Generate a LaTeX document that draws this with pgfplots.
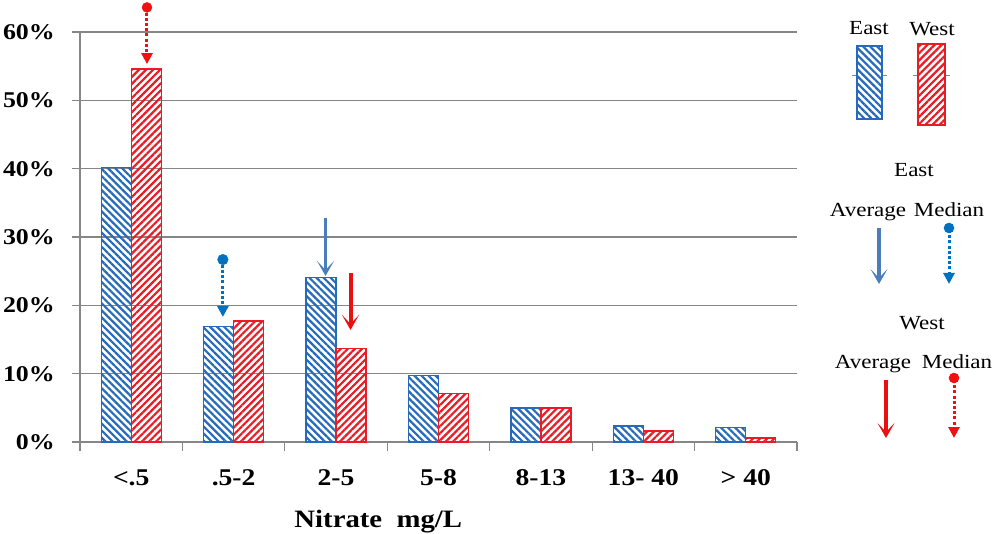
\documentclass[border=0pt]{standalone}
\usepackage{fontspec}
\setmainfont[FakeStretch=1.15]{Liberation Serif}
\usepackage{pgfplots}
\pgfplotsset{compat=1.18}
\usetikzlibrary{patterns.meta,arrows.meta}
\definecolor{eastblue}{RGB}{38,106,186}
\definecolor{westred}{RGB}{232,28,36}
\definecolor{avgblue}{RGB}{74,126,187}
\definecolor{medblue}{RGB}{0,112,192}
\definecolor{avgred}{RGB}{232,16,16}
\definecolor{medred}{RGB}{240,16,16}
\definecolor{gridgray}{RGB}{134,134,134}
\tikzset{
  eastbar/.style={draw=eastblue, line width=1.4pt, pattern={Lines[angle=-45,distance=5pt,line width=2.2pt]}, pattern color=eastblue},
  westbar/.style={draw=westred, line width=1.4pt, pattern={Lines[angle=45,distance=5pt,line width=2.2pt]}, pattern color=westred},
  avgarrowblue/.style={draw=avgblue, line width=3.5pt, -{Stealth[length=15pt,width=17pt,inset=9pt]}},
  avgarrowred/.style={draw=avgred, line width=4pt, -{Stealth[length=15pt,width=17pt,inset=9pt]}},
  medarrowblue/.style={draw=medblue, line width=3pt, dash pattern=on 3pt off 2.2pt, -{Triangle[length=11pt,width=11pt]}},
  medarrowred/.style={draw=medred, line width=3pt, dash pattern=on 3pt off 2.2pt, -{Triangle[length=11pt,width=11pt]}},
}
\begin{document}
\begin{tikzpicture}
\path[use as bounding box] (0pt,0pt) rectangle (995pt,-534pt);
\begin{axis}[
  at={(80pt,-442pt)}, anchor=south west,
  scale only axis, width=717pt, height=410pt,
  xmin=-0.5, xmax=6.5, ymin=0, ymax=60,
  clip=false,
  axis x line*=bottom, axis y line*=left,
  axis line style={draw=gridgray, line width=1.2pt, -},
  ymajorgrids, grid style={draw=gridgray, line width=1.1pt},
  ytick={0,10,...,60},
  yticklabels={0\%,10\%,20\%,30\%,40\%,50\%,60\%},
  xtick={0,...,6},
  xticklabels={<.5,.5-2,2-5,5-8,8-13,13- 40,> 40},
  minor xtick={-0.5,0.5,...,6.5},
  tick align=outside, major tick length=8pt, minor tick length=9pt,
  tick style={draw=gridgray, line width=1.2pt},
  major x tick style={draw=none},
  yticklabel style={font=\fontsize{22.5}{26}\selectfont\bfseries, anchor=east, inner sep=0pt, xshift=-17pt},
  xticklabel style={font=\fontsize{24}{28}\selectfont\bfseries, anchor=base, inner sep=0pt, yshift=-35pt},
  xlabel={Nitrate\ \ mg/L},
  xlabel style={font=\fontsize{25}{30}\selectfont\bfseries, at={(axis description cs:0.416,0)}, anchor=base, inner sep=0pt, yshift=-85pt},
]
\addplot[ybar, bar width=30pt, bar shift=-15pt, eastbar] coordinates {
  (0,40.2) (1,16.9) (2,24.1) (3,9.7) (4,5.0) (5,2.35) (6,2.1)};
\addplot[ybar, bar width=30pt, bar shift=15pt, westbar] coordinates {
  (0,54.6) (1,17.7) (2,13.7) (3,7.1) (4,5.0) (5,1.6) (6,0.6)};
% West median
\addplot[medarrowred] coordinates {(0.154,63.6) (0.154,55.3)};
\addplot[only marks, mark=*, mark size=5pt, mark options={draw=medred, fill=medred}] coordinates {(0.154,63.6)};
% East median
\addplot[medarrowblue] coordinates {(0.895,26.7) (0.895,18.3)};
\addplot[only marks, mark=*, mark size=5.3pt, mark options={draw=medblue, fill=medblue}] coordinates {(0.895,26.7)};
% East average
\addplot[avgarrowblue] coordinates {(1.897,32.8) (1.897,24.3)};
% West average
\addplot[avgarrowred] coordinates {(2.141,24.8) (2.141,16.4)};
\end{axis}
% legend
\begin{scope}[font=\fontsize{20}{23}\selectfont]
\draw[gridgray, line width=0.8pt] (852pt,-75pt) -- (887pt,-75pt);
\draw[gridgray, line width=0.8pt] (913pt,-75pt) -- (950pt,-75pt);
\path[eastbar, fill=white] (857pt,-46pt) rectangle (882pt,-119pt);
\path[eastbar] (857pt,-46pt) rectangle (882pt,-119pt);
\path[westbar, fill=white] (918pt,-44pt) rectangle (945pt,-125pt);
\path[westbar] (918pt,-44pt) rectangle (945pt,-125pt);
\node[anchor=base, inner sep=0pt] at (869pt,-34.5pt) {East};
\node[anchor=base, inner sep=0pt] at (932pt,-36pt) {West};
\node[anchor=base, inner sep=0pt] at (914pt,-177pt) {East};
\node[anchor=base, inner sep=0pt] at (868pt,-217pt) {Average};
\node[anchor=base, inner sep=0pt] at (949pt,-217pt) {Median};
\draw[avgarrowblue] (879pt,-228pt) -- (879pt,-284pt);
\draw[medarrowblue] (949pt,-230pt) -- (949pt,-284pt);
\fill[medblue] (949pt,-228pt) circle (5.3pt);
\node[anchor=base, inner sep=0pt] at (922pt,-330pt) {West};
\node[anchor=base, inner sep=0pt] at (873pt,-368pt) {Average};
\node[anchor=base, inner sep=0pt] at (957pt,-368pt) {Median};
\draw[avgarrowred] (886pt,-380pt) -- (886pt,-438pt);
\draw[medarrowred] (954pt,-380pt) -- (954pt,-438pt);
\fill[medred] (954pt,-378pt) circle (5.3pt);
\end{scope}
\end{tikzpicture}
\end{document}
